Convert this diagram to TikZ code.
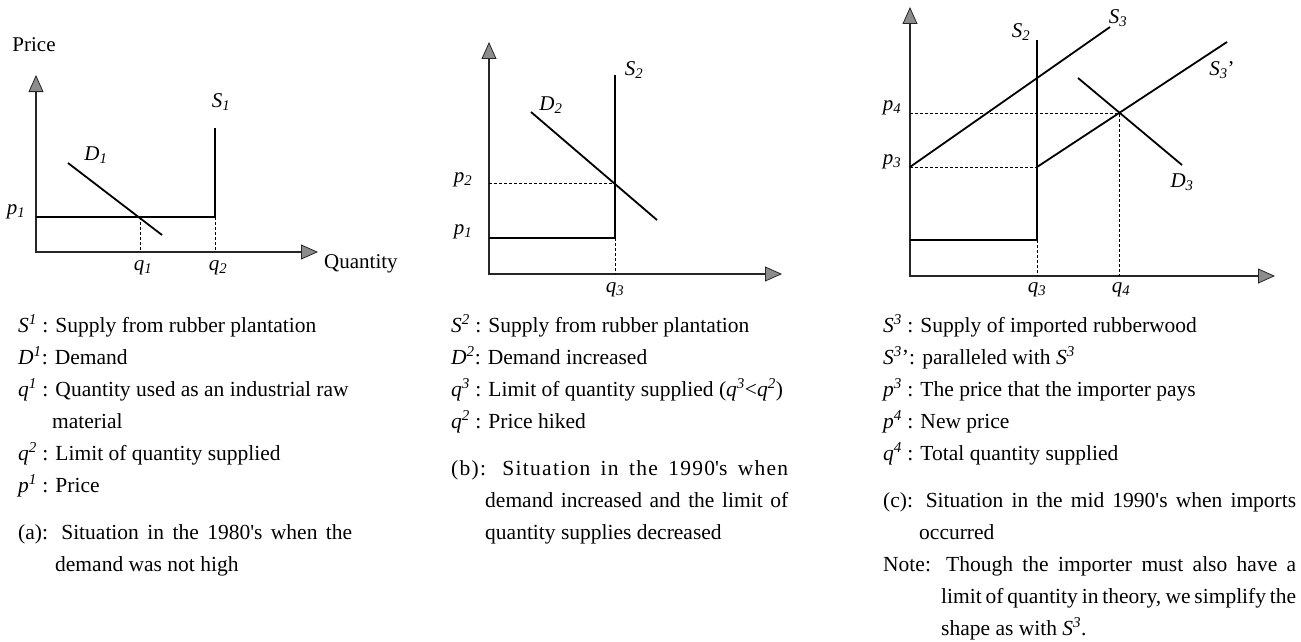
\documentclass[tikz,border=0pt]{standalone}
\usepackage{fontspec}
\setmainfont{Liberation Serif}
\newfontfamily\capwide[LetterSpace=6]{Liberation Serif}
\usetikzlibrary{arrows.meta}
\newcommand{\lb}[2]{\textit{#1}\textsubscript{\textit{#2}}}
\newcommand{\su}[2]{\textit{#1}\textsuperscript{\textit{#2}}}
\tikzset{
  axisln/.style={line width=2pt, draw=black!85,
    {Triangle[length=17pt,width=15pt,fill=black!45,line width=0.8pt]}-{Triangle[length=17pt,width=15pt,fill=black!45,line width=0.8pt]}},
  curve/.style={line width=1.8pt},
  dsh/.style={line width=0.9pt, dash pattern=on 3pt off 2pt},
  lab/.style={inner sep=0pt, font=\fontsize{21}{25}\selectfont},
  txt/.style={anchor=base west, inner sep=0pt, font=\fontsize{21.5}{32}\selectfont},
}
\begin{document}
\begin{tikzpicture}[x=1pt,y=-1pt]
\useasboundingbox (0,0) rectangle (1301,642);
% ---------------- panel (a)
\coordinate (a0) at (36,252);
\coordinate (ay) at (36,75);
\coordinate (ax) at (318,252);
\coordinate (ap1) at (36,217);
\coordinate (as1b) at (215,217);
\coordinate (as1t) at (215,128);
\coordinate (aq2) at (215,252);
\coordinate (ad1) at (68,163);
\coordinate (ad2) at (162,235);
\coordinate (aq1t) at (140,217);
\coordinate (aq1b) at (140,252);
\draw[axisln] (ay) -- (a0) -- (ax);
\draw[curve] (ap1) -- (as1b) -- (as1t);
\draw[dsh] (as1b) -- (aq2);
\draw[curve] (ad1) -- (ad2);
\draw[dsh] (aq1t) -- (aq1b);
\node[lab] (aprice) at (34,45) {Price};
\node[lab, anchor=west] (aquant) at (324,264) {Quantity};
\node[lab] (aS1) at (221,102) {\lb{S}{1}};
\node[lab] (aD1) at (96,155) {\lb{D}{1}};
\node[lab] (ap1l) at (16,212) {\lb{p}{1}};
\node[lab] (aq1l) at (143,268) {\lb{q}{1}};
\node[lab] (aq2l) at (218,268) {\lb{q}{2}};
% ---------------- panel (b)
\coordinate (b0) at (489,274);
\coordinate (by) at (489,42);
\coordinate (bx) at (782,274);
\coordinate (bp1) at (489,238);
\coordinate (bs2b) at (615,238);
\coordinate (bs2t) at (615,75);
\coordinate (bq3) at (615,274);
\coordinate (bp2) at (489,183);
\coordinate (bp2e) at (615,183);
\coordinate (bd1) at (531,112);
\coordinate (bd2) at (657,220);
\draw[axisln] (by) -- (b0) -- (bx);
\draw[curve] (bp1) -- (bs2b) -- (bs2t);
\draw[dsh] (bs2b) -- (bq3);
\draw[dsh] (bp2) -- (bp2e);
\draw[curve] (bd1) -- (bd2);
\node[lab] (bS2) at (634,70) {\lb{S}{2}};
\node[lab] (bD2) at (551,105) {\lb{D}{2}};
\node[lab] (bp2l) at (463,180) {\lb{p}{2}};
\node[lab] (bp1l) at (463,232) {\lb{p}{1}};
\node[lab] (bq3l) at (615,290) {\lb{q}{3}};
% ---------------- panel (c)
\coordinate (c0) at (910,276);
\coordinate (cy) at (910,7);
\coordinate (cx) at (1275,276);
\coordinate (cb) at (910,240);
\coordinate (cs2b) at (1037,240);
\coordinate (cs2t) at (1037,40);
\coordinate (cq3) at (1037,276);
\coordinate (cp3) at (910,167);
\coordinate (cs3e) at (1110,27);
\coordinate (cs3pa) at (1037,167);
\coordinate (cs3pb) at (1227,42);
\coordinate (cd1) at (1078,78);
\coordinate (cd2) at (1182,165);
\coordinate (cp4) at (910,113);
\coordinate (cx4) at (1119,113);
\coordinate (cq4) at (1119,276);
\draw[axisln] (cy) -- (c0) -- (cx);
\draw[curve] (cb) -- (cs2b) -- (cs2t);
\draw[dsh] (cs2b) -- (cq3);
\draw[curve] (cp3) -- (cs3e);
\draw[curve] (cs3pa) -- (cs3pb);
\draw[curve] (cd1) -- (cd2);
\draw[dsh] (cp3) -- (cs3pa);
\draw[dsh] (cp4) -- (cx4) -- (cq4);
\node[lab] (cS2) at (1021,32) {\lb{S}{2}};
\node[lab] (cS3) at (1118,18) {\lb{S}{3}};
\node[lab] (cS3p) at (1222,70) {\lb{S}{3}'};
\node[lab] (cD3) at (1182,182) {\lb{D}{3}};
\node[lab] (cp4l) at (892,108) {\lb{p}{4}};
\node[lab] (cp3l) at (892,162) {\lb{p}{3}};
\node[lab] (cq3l) at (1037,290) {\lb{q}{3}};
\node[lab] (cq4l) at (1121,290) {\lb{q}{4}};
% ---------------- texts (a)
\node[txt] (ta1) at (18,332) {\su{S}{1} : Supply from rubber plantation};
\node[txt] (ta2) at (18,364) {\su{D}{1}: Demand};
\node[txt] (ta3) at (18,396) {\su{q}{1} : Quantity used as an industrial raw};
\node[txt] (ta4) at (52,428) {material};
\node[txt] (ta5) at (18,460) {\su{q}{2} : Limit of quantity supplied};
\node[txt] (ta6) at (18,492) {\su{p}{1} : Price};
\node[txt] (ta7) at (18,539) {\makebox[334pt][s]{(a): Situation in the 1980\textquotesingle s when the}};
\node[txt] (ta8) at (55,571) {demand was not high};
% ---------------- texts (b)
\node[txt] (tb1) at (451,332) {\su{S}{2} : Supply from rubber plantation};
\node[txt] (tb2) at (451,364) {\su{D}{2}: Demand increased};
\node[txt] (tb3) at (451,396) {\su{q}{3} : Limit of quantity supplied (\su{q}{3}<\su{q}{2})};
\node[txt] (tb4) at (451,428) {\su{q}{2} : Price hiked};
\node[txt] (tb5) at (451,475) {\makebox[337pt][s]{\capwide (b): Situation in the 1990\textquotesingle s when}};
\node[txt] (tb6) at (485,507) {\makebox[303pt][s]{demand increased and the limit of}};
\node[txt] (tb7) at (485,539) {quantity supplies decreased};
% ---------------- texts (c)
\node[txt] (tc1) at (883,332) {\su{S}{3} : Supply of imported rubberwood};
\node[txt] (tc2) at (883,364) {\su{S}{3}': paralleled with \su{S}{3}};
\node[txt] (tc3) at (883,396) {\su{p}{3} : The price that the importer pays};
\node[txt] (tc4) at (883,428) {\su{p}{4} : New price};
\node[txt] (tc5) at (883,460) {\su{q}{4} : Total quantity supplied};
\node[txt] (tc6) at (883,507) {\makebox[413pt][s]{(c): Situation in the mid 1990\textquotesingle s when imports}};
\node[txt] (tc7) at (919,539) {occurred};
\node[txt] (tc8) at (883,571) {\makebox[413pt][s]{Note: Though the importer must also have a}};
\node[txt] (tc9) at (941,603) {\makebox[355pt][s]{limit of quantity in theory, we simplify the}};
\node[txt] (tc10) at (941,635) {shape as with \su{S}{3}.};
\end{tikzpicture}
\end{document}
